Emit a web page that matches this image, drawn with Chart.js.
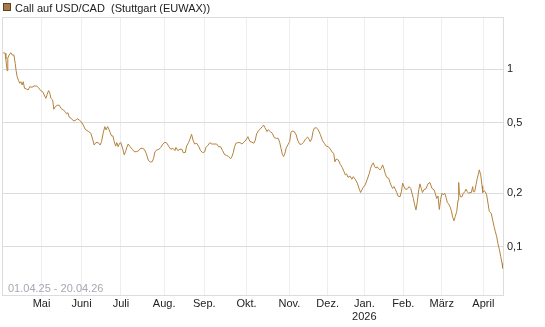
<!DOCTYPE html>
<html lang="de">
<head>
<meta charset="utf-8">
<title>Call auf USD/CAD</title>
<script src="https://cdn.jsdelivr.net/npm/chart.js@4.4.1/dist/chart.umd.min.js"></script>
<style>
  html, body { margin: 0; padding: 0; background: #fff; }
  canvas { display: block; }
</style>
</head>
<body>
<canvas id="chart" width="545" height="327"></canvas>
<script>
const seriesName = "Call auf USD/CAD  (Stuttgart (EUWAX))";
const rangeLabel = "01.04.25 - 20.04.26";

// Position auf der Zeitachse (Tage ab 01.04.25)
const days = [
  0.9, 2.4, 2.9, 3.9, 4.4, 5.4, 6.7, 7.7, 9.0, 10.0, 10.7, 11.5, 12.6, 13.5, 14.3, 15.3, 16.1, 17.1, 18.6, 19.8,
  21.1, 22.7, 24.4, 26.2, 27.7, 29.3, 30.8, 32.0, 33.3, 34.3, 35.3, 36.3, 37.1, 38.4, 39.3, 40.3, 41.8, 43.4, 44.9, 46.4,
  47.9, 49.0, 50.0, 51.0, 52.5, 54.0, 55.5, 57.0, 58.5, 60.1, 61.6, 63.1,
  65.4, 67.4, 68.9, 69.9, 71.2, 73.0, 74.5, 75.5, 76.7, 78.0, 79.0, 80.1, 81.1, 82.1, 83.1, 84.1, 85.1, 86.2, 87.1, 88.1,
  89.2, 90.2, 91.7, 92.7, 93.7, 94.7, 95.7, 97.2, 98.8, 100.3, 101.8, 103.3, 104.8, 106.3, 107.9, 109.4, 110.9, 112.4, 113.9, 115.0,
  116.0, 117.5, 119.0, 120.5, 122.0, 123.6, 125.1, 126.6, 128.1, 129.6, 131.2,
  131.9, 133.4, 134.9, 136.5, 137.4, 139.0, 140.0, 141.5, 142.5, 143.8, 145.0, 146.1, 147.6, 149.1, 150.6, 152.2, 153.7, 154.7, 156.2, 157.7,
  159.2, 160.7, 162.8, 164.3, 165.8, 167.3, 168.9, 170.4, 171.9, 173.4, 174.4, 175.4, 176.4, 177.4, 178.9, 180.5, 182.0, 183.5, 185.0, 186.5,
  188.1, 189.6, 191.1,
  192.1, 193.1, 194.4, 195.9, 197.4, 198.4, 199.4, 201.0, 201.9, 203.5, 205.0, 206.5, 208.0, 209.5, 210.6, 211.6, 212.6, 213.6, 214.6, 215.6,
  217.1, 218.2, 219.2, 220.1, 221.7, 223.2, 224.2, 225.8, 227.3, 228.8, 230.3, 231.8, 232.8, 233.8, 234.9, 235.9, 236.8, 238.4, 239.9, 241.4,
  242.9, 244.4, 245.9, 247.5, 249.0, 250.5, 251.6, 252.5, 253.5, 255.1, 256.6, 258.1,
  259.4, 260.4, 261.4, 262.4, 263.9, 265.4, 266.4, 267.9, 269.5, 271.0, 272.0, 273.0, 274.0, 275.5, 277.1, 278.6, 279.6, 280.6, 281.6, 282.7,
  283.7, 284.6, 285.7, 286.7, 287.7, 288.7, 289.6, 290.6, 291.8, 293.3, 294.3, 295.3, 296.3, 297.3, 298.3, 299.4, 300.3, 301.9, 302.9, 303.9,
  304.9, 305.9, 307.4, 308.9, 310.0, 311.0, 312.0, 313.0, 314.0, 315.0, 316.1, 317.0, 318.0, 318.9, 320.1, 321.6, 323.1, 324.6,
  326.1, 327.7, 328.6, 329.7, 330.7, 331.7, 332.7, 333.7, 334.7, 335.8, 336.8, 337.8, 338.8, 339.8, 340.8, 341.9, 342.8, 343.8, 344.9, 345.9,
  346.4, 346.9, 347.9, 348.9, 349.9, 351.0, 351.9, 352.9, 354.0, 355.0, 356.0, 357.0, 357.5, 358.5, 359.5, 360.5, 361.6, 362.0, 363.1, 364.1,
  364.6, 365.6, 366.6, 367.6, 368.6, 369.6, 371.1, 372.2, 373.2, 374.2, 375.2, 376.2, 377.2, 378.3, 379.3, 379.8
];

// Kurs in EUR
const prices = [
  1.240, 1.231, 1.143, 0.982, 1.158, 1.204, 1.240, 1.204, 1.204, 1.081, 0.982, 0.908, 0.862, 0.834, 0.851, 0.816, 0.851, 0.781, 0.774, 0.764,
  0.798, 0.792, 0.805, 0.805, 0.788, 0.758, 0.748, 0.716, 0.686, 0.723, 0.758, 0.732, 0.686, 0.671, 0.595, 0.615, 0.627, 0.627, 0.600, 0.590,
  0.577, 0.560, 0.569, 0.537, 0.529, 0.513, 0.513, 0.527, 0.518, 0.506, 0.485, 0.459,
  0.447, 0.436, 0.399, 0.374, 0.386, 0.386, 0.374, 0.391, 0.436, 0.475, 0.455, 0.475, 0.459, 0.439, 0.421, 0.421, 0.391, 0.369, 0.386, 0.366,
  0.383, 0.386, 0.354, 0.329, 0.343, 0.363, 0.379, 0.366, 0.354, 0.343, 0.343, 0.346, 0.357, 0.359, 0.354, 0.336, 0.308, 0.300, 0.301, 0.315,
  0.343, 0.351, 0.354, 0.363, 0.379, 0.388, 0.383, 0.366, 0.354, 0.359, 0.348,
  0.363, 0.348, 0.354, 0.354, 0.339, 0.339, 0.369, 0.386, 0.403, 0.430, 0.396, 0.379, 0.383, 0.369, 0.348, 0.339, 0.342, 0.363, 0.373, 0.386,
  0.379, 0.379, 0.379, 0.366, 0.366, 0.348, 0.330, 0.327, 0.322, 0.313, 0.322, 0.339, 0.366, 0.383, 0.386, 0.386, 0.379, 0.388, 0.399, 0.417,
  0.391, 0.388, 0.383,
  0.399, 0.432, 0.449, 0.461, 0.475, 0.485, 0.469, 0.445, 0.457, 0.445, 0.436, 0.412, 0.408, 0.408, 0.388, 0.359, 0.332, 0.322, 0.336, 0.361,
  0.378, 0.391, 0.441, 0.449, 0.445, 0.426, 0.399, 0.378, 0.378, 0.388, 0.405, 0.415, 0.405, 0.391, 0.405, 0.445, 0.465, 0.469, 0.455, 0.430,
  0.399, 0.383, 0.369, 0.366, 0.355, 0.340, 0.336, 0.301, 0.312, 0.308, 0.291, 0.279,
  0.265, 0.254, 0.257, 0.246, 0.250, 0.240, 0.248, 0.240, 0.228, 0.211, 0.202, 0.209, 0.216, 0.223, 0.240, 0.259, 0.277, 0.289, 0.297, 0.282,
  0.277, 0.282, 0.275, 0.271, 0.277, 0.289, 0.277, 0.259, 0.246, 0.243, 0.230, 0.220, 0.213, 0.218, 0.211, 0.202, 0.193, 0.191, 0.204, 0.228,
  0.218, 0.211, 0.211, 0.218, 0.213, 0.200, 0.187, 0.172, 0.161, 0.179, 0.209, 0.226, 0.213, 0.202, 0.210, 0.212, 0.226, 0.230,
  0.213, 0.209, 0.200, 0.187, 0.193, 0.162, 0.185, 0.200, 0.196, 0.200, 0.190, 0.177, 0.174, 0.168, 0.160, 0.146, 0.140, 0.148, 0.158, 0.183,
  0.230, 0.200, 0.191, 0.191, 0.200, 0.204, 0.211, 0.204, 0.200, 0.202, 0.202, 0.218, 0.204, 0.204, 0.223, 0.243, 0.261, 0.271, 0.254, 0.220,
  0.202, 0.207, 0.204, 0.196, 0.176, 0.158, 0.154, 0.141, 0.130, 0.1215, 0.114, 0.1036, 0.0967, 0.0878, 0.0806, 0.0755
];

// Monatsanfänge auf der Zeitachse
const monthPos = [30, 60.3, 90.2, 123, 153.4, 185.5, 218, 247, 274.8, 304.4, 333.5, 365.1];
const monthLabels = ["Mai", "Juni", "Juli", "Aug.", "Sep.", "Okt.", "Nov.", "Dez.", ["Jan.", "2026"], "Feb.", "März", "April"];
const yTickValues = [0.1, 0.2, 0.5, 1];

const xMax = 380;
const yMin = 0.0534;
const yMax = 1.971;

const lineColor = "#b4823c";
const font = { family: "'Liberation Sans', Arial, sans-serif", size: 11 };

// Kopfzeile + Zeitraum
const headerPlugin = {
  id: "header",
  afterDraw(chart) {
    const ctx = chart.ctx;
    ctx.save();
    ctx.fillStyle = "#a87a45";
    ctx.fillRect(3, 3, 8, 8);
    ctx.strokeStyle = "#5a4128";
    ctx.lineWidth = 1;
    ctx.strokeRect(3.5, 3.5, 7, 7);
    ctx.font = "11px 'Liberation Sans', Arial, sans-serif";
    ctx.textBaseline = "alphabetic";
    ctx.fillStyle = "#222";
    ctx.fillText(seriesName, 15, 12);
    ctx.fillStyle = "#a6a8b2";
    ctx.fillText(rangeLabel, 8, 292);
    ctx.restore();
  }
};

const points = days.map((d, i) => ({ x: d, y: prices[i] }));

new Chart(document.getElementById("chart"), {
  type: "line",
  data: {
    datasets: [{
      label: seriesName,
      data: points,
      borderColor: lineColor,
      borderWidth: 1,
      pointRadius: 0,
      tension: 0,
      fill: false
    }]
  },
  options: {
    responsive: false,
    animation: false,
    devicePixelRatio: 1,
    layout: { padding: { left: 2, top: 17, right: 0, bottom: 0 } },
    plugins: { legend: { display: false }, tooltip: { enabled: false } },
    scales: {
      x: {
        type: "linear",
        min: 0,
        max: xMax,
        afterBuildTicks: s => { s.ticks = [0, ...monthPos].map(v => ({ value: v })); },
        afterFit: s => { s.height = 32; },
        grid: { color: c => (c.tick && c.tick.value === 0 ? "#dcdcdc" : "#eeeeee"), drawTicks: false },
        border: { color: "#dcdcdc" },
        ticks: {
          autoSkip: false,
          maxRotation: 0,
          padding: 2,
          color: "#222",
          font,
          callback: (v, i) => (i === 0 ? "" : monthLabels[i - 1])
        }
      },
      y: {
        type: "logarithmic",
        position: "right",
        min: yMin,
        max: yMax,
        afterBuildTicks: s => { s.ticks = [...yTickValues, yMax].map(v => ({ value: v })); },
        afterFit: s => { s.width = 42; },
        grid: { color: "#dcdcdc", drawTicks: false },
        border: { color: "#dcdcdc" },
        ticks: {
          padding: 4,
          color: "#222",
          font,
          callback: v => (v === yMax ? "" : String(v).replace(".", ","))
        }
      }
    }
  },
  plugins: [headerPlugin]
});
</script>
</body>
</html>
